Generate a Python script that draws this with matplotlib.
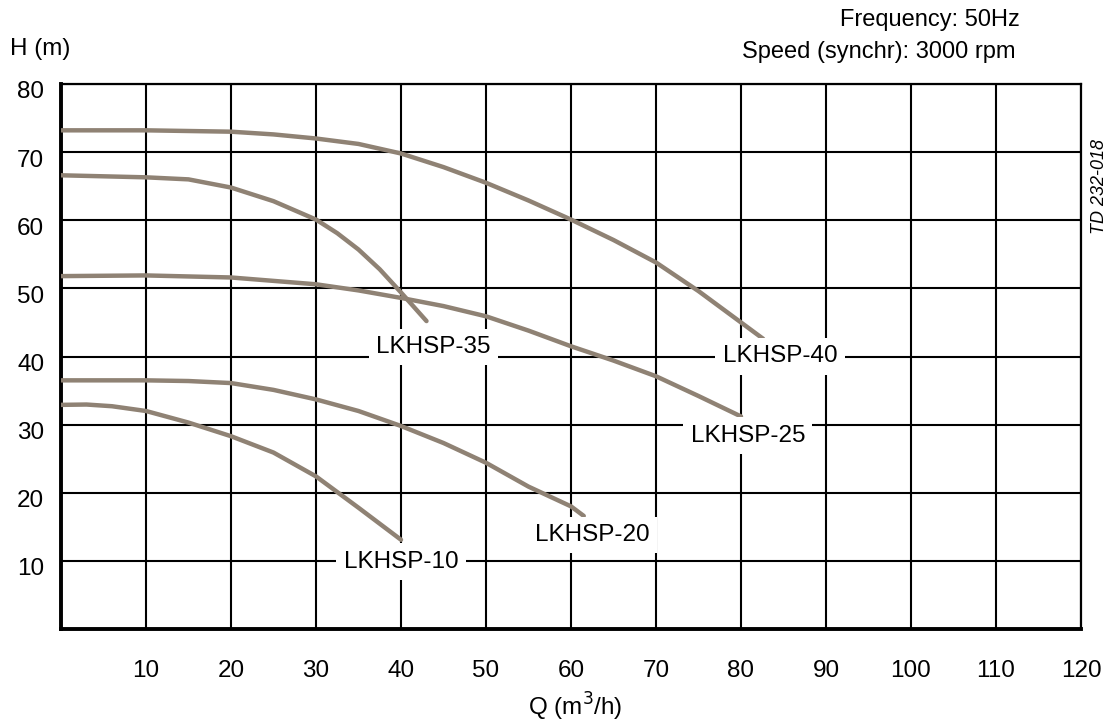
import matplotlib
matplotlib.use("Agg")
import matplotlib.pyplot as plt
import matplotlib.transforms as mtransforms

plt.rcParams['font.family'] = ['Liberation Sans', 'DejaVu Sans']

# pump curves, Q in m3/h, H in m
q_40 = [0, 10, 20, 25, 30, 35, 40, 45, 50, 55, 60, 65, 70, 75, 80, 82.6]
h_40 = [73.2, 73.2, 73.0, 72.6, 72.0, 71.2, 69.8, 67.8, 65.5, 62.9, 60.1, 57.1, 53.8, 49.6, 45.0, 42.6]

q_35 = [0, 10, 15, 20, 25, 30, 32.5, 35, 37.5, 40, 43.0]
h_35 = [66.6, 66.3, 66.0, 64.8, 62.8, 60.1, 58.1, 55.7, 52.8, 49.4, 45.2]

q_25 = [0, 10, 20, 30, 35, 40, 45, 50, 55, 60, 65, 70, 75, 80]
h_25 = [51.8, 51.9, 51.6, 50.6, 49.7, 48.6, 47.4, 45.9, 43.8, 41.5, 39.4, 37.1, 34.2, 31.2]

q_20 = [0, 10, 15, 20, 25, 30, 35, 40, 45, 50, 55, 60, 61.5]
h_20 = [36.5, 36.5, 36.4, 36.1, 35.1, 33.7, 32.0, 29.8, 27.3, 24.4, 20.9, 18.0, 16.6]

q_10 = [0, 3, 6, 10, 15, 20, 25, 30, 35, 40]
h_10 = [32.9, 32.95, 32.7, 32.0, 30.3, 28.3, 25.9, 22.4, 17.8, 13.1]

curves = [("LKHSP-40", q_40, h_40), ("LKHSP-35", q_35, h_35), ("LKHSP-25", q_25, h_25),
          ("LKHSP-20", q_20, h_20), ("LKHSP-10", q_10, h_10)]

# where each name sits on the chart
label_pos = {"LKHSP-40": (84.6, 40.0), "LKHSP-35": (43.8, 41.4), "LKHSP-25": (80.8, 28.4),
             "LKHSP-20": (62.5, 13.8), "LKHSP-10": (40.0, 9.9)}

x_ticks = list(range(10, 121, 10))
y_ticks = list(range(10, 81, 10))

curve_color = "#8f8274"

fig = plt.figure(figsize=(11.11, 7.24), dpi=100)
ax = fig.add_axes([61/1111, 1-629/724, 1020/1111, 545/724])

for name, q, h in curves:
    ax.plot(q, h, color=curve_color, lw=3.2, solid_capstyle='round', solid_joinstyle='round', zorder=3)
    lx, ly = label_pos[name]
    ax.text(lx, ly, name, fontsize=17.5, ha='center', va='center', zorder=5,
            bbox=dict(boxstyle='square,pad=0.3', fc='white', ec='none'))

ax.set_xlim(0, 120)
ax.set_ylim(0, 80)
ax.set_xticks(x_ticks)
ax.set_yticks(y_ticks)
ax.grid(True, color='black', lw=1.5)
ax.set_axisbelow(True)
ax.tick_params(length=0, labelsize=17.5)
ax.tick_params(axis='x', pad=22)
ax.tick_params(axis='y', pad=12)

# y labels sit a little below their grid lines
offset = mtransforms.ScaledTranslation(0, -0.06, fig.dpi_scale_trans)
for t in ax.get_yticklabels():
    t.set_transform(t.get_transform() + offset)

for side in ['left', 'bottom']:
    ax.spines[side].set_linewidth(2.8)
for side in ['top', 'right']:
    ax.spines[side].set_linewidth(1.6)

fig.text(575/1111, 1-707/724, "Q (m$^3$/h)", fontsize=17.5, ha='center', va='center')
fig.text(10/1111, 1-49/724, "H (m)", fontsize=17.5, ha='left', va='center')
fig.text(1020/1111, 1-20/724, "Frequency: 50Hz", fontsize=17, ha='right', va='center')
fig.text(1016/1111, 1-52/724, "Speed (synchr): 3000 rpm", fontsize=17, ha='right', va='center')
fig.text(1100/1111, 1-187/724, "TD 232-018", fontsize=13, style='italic', rotation=90,
         ha='center', va='center')

fig.savefig("out.png", dpi=100)
